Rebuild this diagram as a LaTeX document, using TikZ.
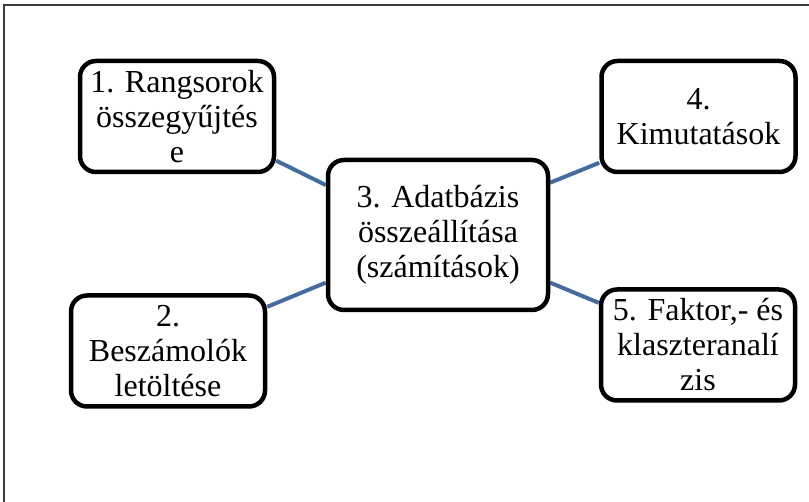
\documentclass[tikz,border=0pt]{standalone}
\usepackage{fontspec}
\setmainfont{Liberation Serif}
\usetikzlibrary{backgrounds}
\definecolor{linkblue}{RGB}{70,108,158}
\definecolor{framegray}{RGB}{60,60,60}
\begin{document}
\begin{tikzpicture}[x=1pt,y=-1pt,
  box/.style={draw=black, line width=4.5pt, rounded corners=16pt, fill=white,
    minimum width=194pt, minimum height=111pt, inner sep=0pt, align=center,
    font=\fontsize{32}{35}\selectfont},
  bigbox/.style={box, minimum width=220pt, minimum height=150pt},
  link/.style={draw=linkblue, line width=4pt}]
\useasboundingbox (0,0) rectangle (809,502);
\draw[framegray, line width=1.3pt] (4,503) -- (4,5) -- (810,5);
\node[box] (b1) at (177,116.5) {1. Rangsorok\\összegyűjtés\\e};
\node[box] (b2) at (168,351) {2.\\Beszámolók\\letöltése};
\node[bigbox] (b3) at (438,235) {3. Adatbázis\\összeállítása\\(számítások)};
\node[box] (b4) at (698.5,116.5) {4.\\Kimutatások};
\node[box] (b5) at (698,345) {5. Faktor,- és\\klaszteranalí\\zis};
\begin{scope}[on background layer]
\draw[link] (b1.-24) -- (b3.156);
\draw[link] (b2.24) -- (b3.203);
\draw[link] (b4.205) -- (b3.25);
\draw[link] (b5.157) -- (b3.-23);
\end{scope}
\end{tikzpicture}
\end{document}
